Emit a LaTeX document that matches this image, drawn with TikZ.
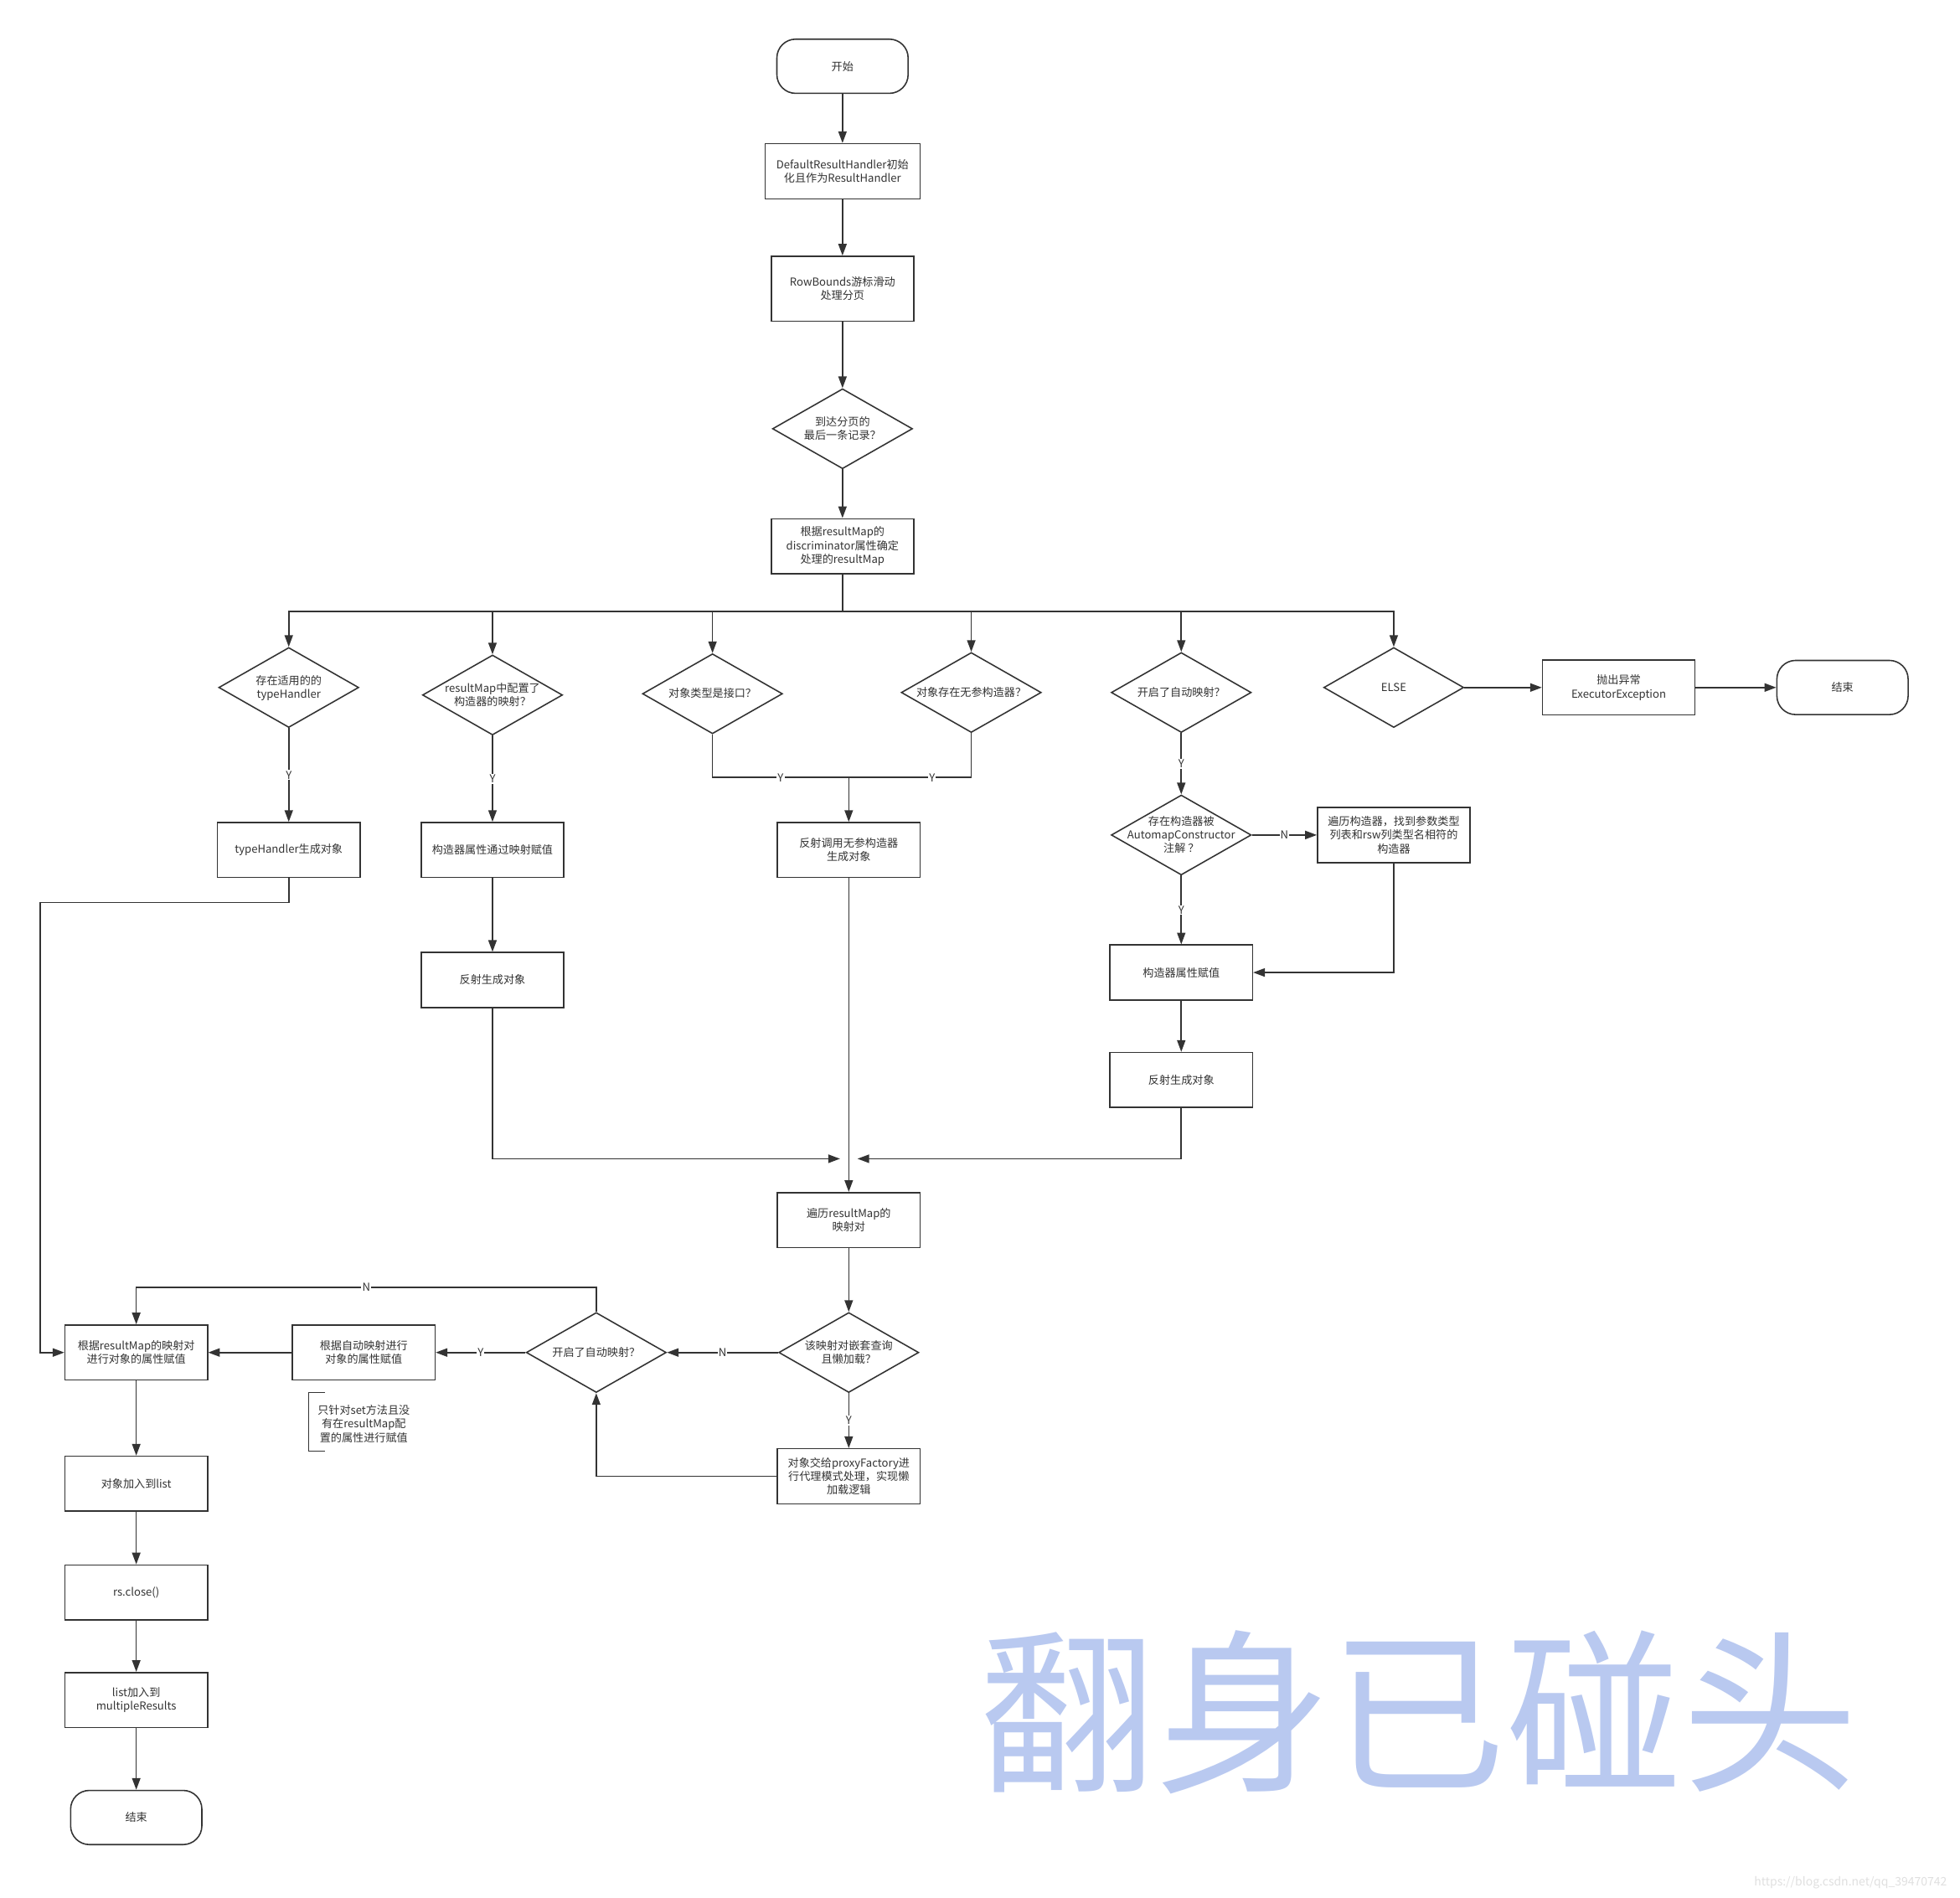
\documentclass[tikz,border=0pt]{standalone}
\usepackage{fontspec}
\setmainfont{Noto Sans CJK SC}
\usetikzlibrary{shapes.geometric,arrows.meta}
\definecolor{ink}{HTML}{333333}
\definecolor{wmblue}{RGB}{185,201,240}
% text of a decision, kept out of the diamond's size
\newcommand{\dtxt}[1]{\smash{\makebox[0pt]{\raisebox{-2.5pt}{\begin{tabular}{@{}c@{}}#1\end{tabular}}}}}
\begin{document}
\begin{tikzpicture}[x=0.3mm, y=-0.3mm, line width=0.9pt, color=ink,
    every node/.style={font=\fontsize{7.5}{9.4}\selectfont},
    proc/.style={draw, minimum width=34.2mm, minimum height=13.2mm, align=center, inner sep=1pt},
    term/.style={draw, rounded corners=4.5mm, minimum width=31.5mm, minimum height=13mm},
    dec/.style={draw, diamond, minimum width=33.6mm, minimum height=19.2mm, inner sep=0pt},
    arr/.style={-{Triangle[length=2.8mm, width=2mm]}},
    lbl/.style={fill=white, inner sep=0.6pt},
  ]
  \path[fill=white, use as bounding box] (0,0) rectangle (1568,1518);

  % main column
  \node[term] (start) at (674,53) {开始};
  \node[proc, minimum width=37.2mm] (init) at (674,137) {DefaultResultHandler初始\\化且作为ResultHandler};
  \node[proc, minimum height=15.6mm] (rowb) at (674,231) {RowBounds游标滑动\\处理分页};
  \node[dec] (page) at (674,343) {\dtxt{到达分页的\\最后一条记录？}};
  \node[proc] (disc) at (674,437) {根据resultMap的\\discriminator属性确定\\处理的resultMap};
  \coordinate (split) at (674,489);

  % branches
  \node[dec] (hasTH) at (231,550) {\dtxt{存在适用的的\\typeHandler}};
  \node[dec] (ctorMap) at (394,556) {\dtxt{resultMap中配置了\\构造器的映射？}};
  \node[dec] (isIface) at (570,555) {\dtxt{对象类型是接口？}};
  \node[dec] (noArg) at (777,554) {\dtxt{对象存在无参构造器？}};
  \node[dec] (autoOn) at (945,554) {\dtxt{开启了自动映射？}};
  \node[dec] (other) at (1115,550) {\dtxt{ELSE}};
  \node[proc, minimum width=36.6mm] (throw) at (1295,550) {抛出异常\\ExecutorException};
  \node[term] (endR) at (1474,550) {结束};

  \node[proc] (thObj) at (231,680) {typeHandler生成对象};
  \node[proc] (ctorSet) at (394,680) {构造器属性通过映射赋值};
  \node[proc] (newObj) at (679,680) {反射调用无参构造器\\生成对象};
  \node[dec] (anno) at (945,668) {\dtxt{存在构造器被\\AutomapConstructor\\注解 ？}};
  \node[proc, minimum width=36.6mm] (findCtor) at (1115,668) {遍历构造器，找到参数类型\\列表和rsw列类型名相符的\\构造器};
  \node[proc] (reflA) at (394,784) {反射生成对象};
  \node[proc] (ctorVal) at (945,778) {构造器属性赋值};
  \node[proc] (reflB) at (945,864) {反射生成对象};

  % property mapping
  \node[proc] (walk) at (679,976) {遍历resultMap的\\映射对};
  \node[dec] (lazy) at (679,1082) {\dtxt{该映射对嵌套查询\\且懒加载？}};
  \node[proc] (proxy) at (679,1181) {对象交给proxyFactory进\\行代理模式处理，实现懒\\加载逻辑};
  \node[dec] (autoOn2) at (477,1082) {\dtxt{开启了自动映射？}};
  \node[proc] (autoSet) at (291,1082) {根据自动映射进行\\对象的属性赋值};
  \node[proc] (mapSet) at (109,1082) {根据resultMap的映射对\\进行对象的属性赋值};
  \node[align=center] (note) at (291,1139) {只针对set方法且没\\有在resultMap配\\置的属性进行赋值};
  \node[proc] (toList) at (109,1187) {对象加入到list};
  \node[proc] (close) at (109,1274) {rs.close()};
  \node[proc] (toMulti) at (109,1360) {list加入到\\multipleResults};
  \node[term] (endL) at (109,1454) {结束};

  \draw[arr] (start) -- (init);
  \draw[arr] (init) -- (rowb);
  \draw[arr] (rowb) -- (page);
  \draw[arr] (page) -- (disc);
  \draw (disc) -- (split);
  \foreach \d in {hasTH,ctorMap,isIface,noArg,autoOn,other}
    \draw[arr] (split) -| (\d.north);

  \draw[arr] (hasTH) -- node[lbl] {Y} (thObj);
  \draw[arr] (ctorMap) -- node[lbl] {Y} (ctorSet);
  \coordinate (join) at (679,622);
  \draw (isIface.south) |- node[lbl, pos=0.75] {Y} (join);
  \draw (noArg.south) |- node[lbl, pos=0.66] {Y} (join);
  \draw[arr] (join) -- (newObj);
  \draw[arr] (autoOn) -- node[lbl] {Y} (anno);
  \draw[arr] (anno) -- node[lbl] {N} (findCtor);
  \draw[arr] (anno) -- node[lbl] {Y} (ctorVal);
  \draw[arr] (findCtor.south) |- (ctorVal.east);
  \draw[arr] (ctorVal) -- (reflB);
  \draw[arr] (other) -- (throw);
  \draw[arr] (throw) -- (endR);
  \draw[arr] (ctorSet) -- (reflA);

  \coordinate (inL) at (672,927);
  \coordinate (inR) at (686,927);
  \draw[arr] (reflA.south) |- (inL);
  \draw[arr] (reflB.south) |- (inR);
  \draw[arr] (newObj) -- (walk);
  \draw[arr] (walk) -- (lazy);
  \draw[arr] (lazy) -- node[lbl] {Y} (proxy);
  \draw[arr] (lazy) -- node[lbl] {N} (autoOn2);
  \draw[arr] (autoOn2) -- node[lbl] {Y} (autoSet);
  \draw[arr] (autoSet) -- (mapSet);
  \coordinate (nTop) at (109,1030);
  \draw[arr] (autoOn2.north) |- node[lbl, pos=0.75] {N} (nTop) -- (mapSet.north);
  \draw[arr] (proxy.west) -| (autoOn2.south);
  \coordinate (thTurn) at (32,722);
  \draw[arr] (thObj.south) |- (thTurn) |- (mapSet.west);
  \draw[arr] (mapSet) -- (toList);
  \draw[arr] (toList) -- (close);
  \draw[arr] (close) -- (toMulti);
  \draw[arr] (toMulti) -- (endL);

  % bracket of the note
  \draw (260,1114) -- (247,1114) -- (247,1161) -- (260,1161);

  \node[text=wmblue, font=\fontsize{120}{120}\selectfont] (wm) at (1135,1370) {翻身已碰头};
  \node[text=black!12, font=\fontsize{8}{9}\selectfont, anchor=east] (url) at (1562,1506) {https://blog.csdn.net/qq\_39470742};
\end{tikzpicture}
\end{document}
